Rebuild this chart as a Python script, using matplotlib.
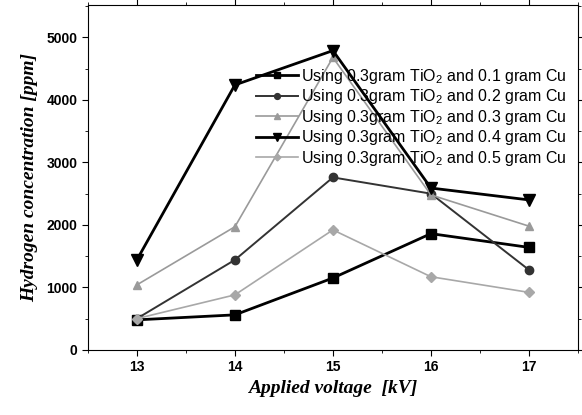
import matplotlib
matplotlib.use("Agg")
import matplotlib.pyplot as plt
from matplotlib.ticker import MultipleLocator

voltage = [13, 14, 15, 16, 17]
cu_01 = [480, 560, 1150, 1860, 1640]
cu_02 = [500, 1440, 2760, 2500, 1280]
cu_03 = [1040, 1970, 4680, 2480, 1980]
cu_04 = [1440, 4240, 4790, 2590, 2400]
cu_05 = [500, 880, 1920, 1170, 920]

labels = [
    "Using 0.3gram TiO$_2$ and 0.1 gram Cu",
    "Using 0.3gram TiO$_2$ and 0.2 gram Cu",
    "Using 0.3gram TiO$_2$ and 0.3 gram Cu",
    "Using 0.3gram TiO$_2$ and 0.4 gram Cu",
    "Using 0.3gram TiO$_2$ and 0.5 gram Cu",
]

series = [cu_01, cu_02, cu_03, cu_04, cu_05]
styles = [
    dict(color="#000000", marker="s", lw=2.0, ms=7),
    dict(color="#333333", marker="o", lw=1.4, ms=6),
    dict(color="#9a9a9a", marker="^", lw=1.2, ms=6),
    dict(color="#000000", marker="v", lw=2.0, ms=8),
    dict(color="#a8a8a8", marker="D", lw=1.2, ms=5),
]

plt.rcParams["mathtext.fontset"] = "custom"
plt.rcParams["mathtext.rm"] = "Liberation Sans"
plt.rcParams["mathtext.it"] = "Liberation Sans:italic"

fig = plt.figure(figsize=(5.82, 4.15), dpi=100)
ax = fig.add_axes([0.151, 0.157, 0.842, 0.831])

for ys, lab, st in zip(series, labels, styles):
    ax.plot(voltage, ys, label=lab, **st)

ax.set_xlim(12.5, 17.5)
ax.set_ylim(0, 5520)
ax.xaxis.set_major_locator(MultipleLocator(1))
ax.xaxis.set_minor_locator(MultipleLocator(0.5))
ax.yaxis.set_major_locator(MultipleLocator(1000))
ax.yaxis.set_minor_locator(MultipleLocator(500))
ax.tick_params(which="both", direction="out", top=True, right=True,
               labeltop=False, labelright=False)
ax.tick_params(which="major", length=4)
ax.tick_params(which="minor", length=2)
for lbl in ax.get_xticklabels() + ax.get_yticklabels():
    lbl.set_fontweight("bold")
    lbl.set_fontsize(10)
    lbl.set_family("Liberation Sans")

ax.set_xlabel("Applied voltage  [kV]", family="Liberation Serif",
              style="italic", weight="bold", fontsize=14, labelpad=4)
ax.set_ylabel("Hydrogen concentration [ppm]", family="Liberation Serif",
              style="italic", weight="bold", fontsize=14, labelpad=6)

ax.legend(loc="upper left", bbox_to_anchor=(0.331, 0.84), frameon=False,
          prop={"family": "Liberation Sans", "size": 11.5},
          handlelength=2.6, handletextpad=0.2, labelspacing=0.1,
          borderaxespad=0, markerscale=0.7)

fig.savefig("out.png", dpi=100)
